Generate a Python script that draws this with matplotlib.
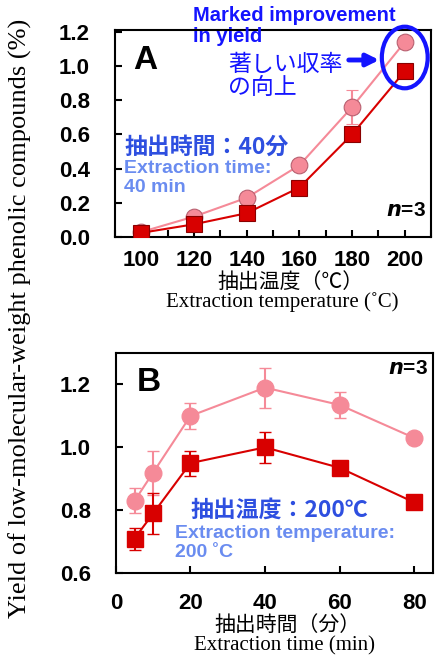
import numpy as np
import matplotlib
matplotlib.use('Agg')
import matplotlib.pyplot as plt
from matplotlib.patches import Ellipse

# panel A: extraction temperature series (40 min)
tempA = [100, 120, 140, 160, 180, 200]
pinkA = [0.03, 0.12, 0.23, 0.42, 0.76, 1.14]
pinkA_err = [0.01, 0.01, 0.01, 0.01, 0.10, 0.01]
redA = [0.025, 0.075, 0.14, 0.29, 0.60, 0.97]
redA_err = [0.01, 0.01, 0.01, 0.01, 0.01, 0.01]

# panel B: extraction time series (200 C)
timeB = [5, 10, 20, 40, 60, 80]
pinkB = [0.83, 0.92, 1.10, 1.19, 1.135, 1.03]
pinkB_err = [0.04, 0.07, 0.04, 0.064, 0.042, 0.01]
redB = [0.71, 0.79, 0.95, 1.00, 0.935, 0.825]
redB_err = [0.035, 0.065, 0.04, 0.05, 0.01, 0.01]

PINK = '#f58a98'
RED = '#d80000'
BLUE = '#1414ff'
MIDBLUE = '#2e4fe0'
LIGHTBLUE = '#6a8cf0'
JP = ['Noto Sans CJK JP', 'DejaVu Sans']
SANS = 'Liberation Sans'
SERIF = 'Liberation Serif'

W, H = 439, 655
fig = plt.figure(figsize=(W / 100, H / 100), dpi=100)


def px(x, y):
    return x / W, 1 - y / H


def style_axes(ax):
    for s in ax.spines.values():
        s.set_linewidth(1.5)
    ax.tick_params(direction='in', length=5, width=1.5, labelsize=16)
    for lab in ax.get_xticklabels() + ax.get_yticklabels():
        lab.set_fontfamily(SANS)
        lab.set_fontweight('bold')


# ---------------- panel A
axA = fig.add_axes([0.262, 0.638, 0.720, 0.316])
axA.errorbar(tempA, pinkA, yerr=pinkA_err, color=PINK, lw=1.5, marker='o', ms=12,
             mfc=PINK, mec='#b86070', mew=0.8, capsize=4, elinewidth=1.5, zorder=3)
axA.errorbar(tempA, redA, yerr=redA_err, color=RED, lw=1.5, marker='s', ms=11,
             mfc=RED, mec='#8a0000', mew=0.8, capsize=4, elinewidth=1.5, zorder=4)
axA.set_xlim(90, 210)
axA.set_ylim(0, 1.21)
axA.set_xticks(np.arange(100, 201, 20))
axA.set_xticks(np.arange(90, 211, 10), minor=True)
axA.set_yticks(np.arange(0, 1.21, 0.2))
axA.set_yticklabels(['%.1f' % v for v in np.arange(0, 1.21, 0.2)])
axA.tick_params(axis='x', which='minor', direction='in', length=5, width=1.5)
axA.tick_params(axis='x', pad=9)
axA.tick_params(axis='y', pad=18)
style_axes(axA)

axA.text(0.057, 0.855, 'A', transform=axA.transAxes, fontsize=24, fontweight='bold',
         family=SANS, va='center', ha='left')
axA.text(0.985, 0.13, r'$\boldsymbol{n}$=3', transform=axA.transAxes, fontsize=15,
         fontweight='bold', family=SANS, ha='right', va='center')

ell = Ellipse((200, 1.05), 17.4, 0.36, fill=False, ec=BLUE, lw=3, clip_on=False, zorder=5)
axA.add_patch(ell)
fig.text(*px(193, 6), 'Marked improvement\nin yield', color=BLUE, fontsize=14.5,
         fontweight='bold', family=SANS, ha='left', va='top', linespacing=1.1)
fig.text(*px(228, 76), '著しい収率\nの向上', color=BLUE, fontsize=16.5, family=JP,
         ha='left', va='center', linespacing=1.05)
axA.annotate('', xy=px(382, 60), xytext=px(346, 60), xycoords='figure fraction',
             textcoords='figure fraction',
             arrowprops=dict(arrowstyle='-|>', color=BLUE, lw=3.5, mutation_scale=18))

fig.text(*px(124, 147), '抽出時間：40分', color=MIDBLUE, fontsize=16.5, fontweight='bold',
         family=JP, ha='left', va='center')
fig.text(*px(124, 178), 'Extraction time:\n40 min', color=LIGHTBLUE, fontsize=14,
         fontweight='bold', family=SANS, ha='left', va='center', linespacing=1.15)

fig.text(*px(290, 282), '抽出温度（℃）', fontsize=15, family=JP, ha='center', va='center')
fig.text(*px(282, 302), 'Extraction temperature (˚C)', fontsize=15, family=SERIF,
         ha='center', va='center')

# ---------------- panel B
axB = fig.add_axes([0.264, 0.125, 0.722, 0.336])
axB.errorbar(timeB, pinkB, yerr=pinkB_err, color=PINK, lw=1.5, marker='o', ms=12,
             mfc=PINK, mec=PINK, capsize=4, elinewidth=1.5, zorder=3)
axB.errorbar(timeB, redB, yerr=redB_err, color=RED, lw=1.5, marker='s', ms=12,
             mfc=RED, mec=RED, capsize=4, elinewidth=1.5, zorder=4)
axB.set_xlim(0, 85)
axB.set_ylim(0.6, 1.3)
axB.set_xticks([0, 20, 40, 60, 80])
axB.set_yticks([0.6, 0.8, 1.0, 1.2])
axB.set_yticklabels(['0.6', '0.8', '1.0', '1.2'])
axB.tick_params(axis='x', pad=14)
axB.tick_params(axis='y', pad=18)
style_axes(axB)

axB.text(0.066, 0.864, 'B', transform=axB.transAxes, fontsize=24, fontweight='bold',
         family=SANS, va='center', ha='left')
axB.text(0.985, 0.93, r'$\boldsymbol{n}$=3', transform=axB.transAxes, fontsize=15,
         fontweight='bold', family=SANS, ha='right', va='center')

fig.text(*px(190, 510), '抽出温度：200℃', color=MIDBLUE, fontsize=16.5, fontweight='bold',
         family=JP, ha='left', va='center')
fig.text(*px(175, 543), 'Extraction temperature:\n200 ˚C', color=LIGHTBLUE, fontsize=14,
         fontweight='bold', family=SANS, ha='left', va='center', linespacing=1.15)

fig.text(*px(287, 625), '抽出時間（分）', fontsize=15, family=JP, ha='center', va='center')
fig.text(*px(285, 646), 'Extraction time (min)', fontsize=15, family=SERIF,
         ha='center', va='center')

fig.text(*px(20, 318), 'Yield of low-molecular-weight phenolic compounds (%)', fontsize=19,
         family=SERIF, rotation=90, ha='center', va='center')

fig.savefig('out.png', dpi=100)
